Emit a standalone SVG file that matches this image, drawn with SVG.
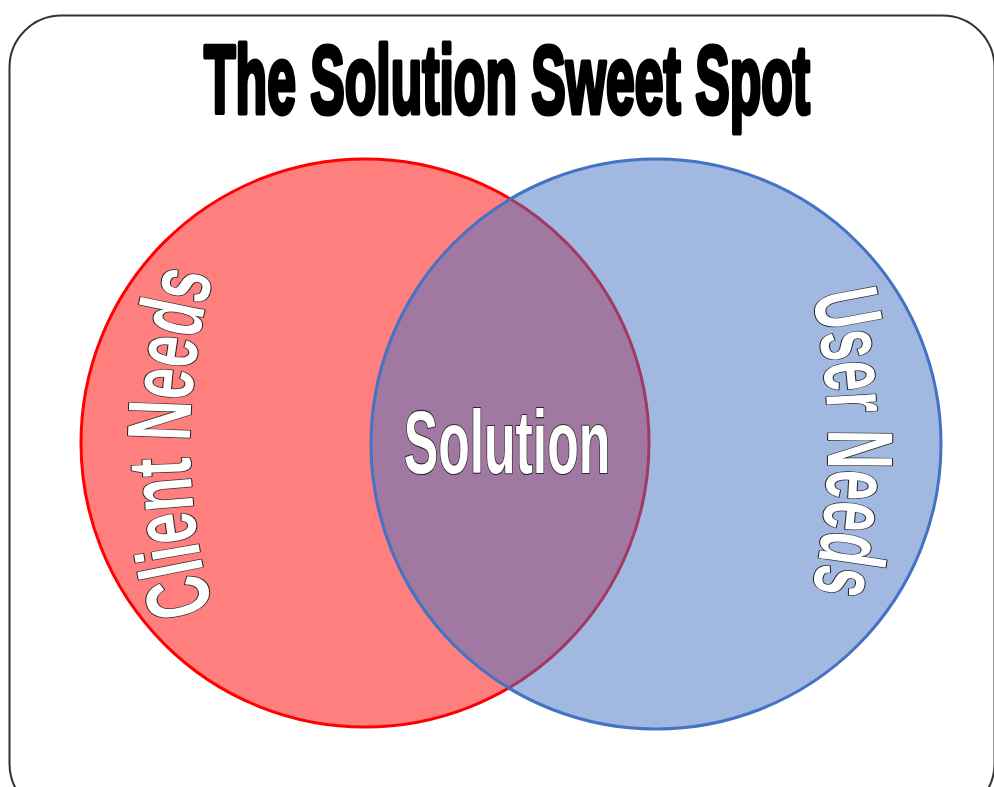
<svg xmlns="http://www.w3.org/2000/svg" width="994" height="787" viewBox="0 0 994 787">
<defs>
<style>
.frame{fill:#ffffff;stroke:#333333;stroke-width:2}
.title{font-family:"Liberation Sans",Arial,sans-serif;font-weight:bold;font-size:97px;fill:#000;stroke:#000;stroke-width:5;stroke-linejoin:round}
.lbl{font-family:"Liberation Sans",Arial,sans-serif;font-weight:bold;fill:#ffffff;stroke:#2a2a2a;stroke-width:2.2;stroke-linejoin:round;paint-order:stroke fill}
</style>
<path id="arcClient" d="M 223.7 643 A 610 610 0 0 1 223.7 243"/>
<path id="arcUser" d="M 798.8 243 A 700 700 0 0 1 798.8 643"/>
</defs>
<rect x="0" y="0" width="994" height="787" fill="#ffffff"/>
<rect class="frame" x="9.5" y="15.5" width="985" height="800" rx="52" ry="52"/>
<g id="title">
<text class="title" transform="translate(507,113) scale(0.533,1)" x="0" y="0" text-anchor="middle">The Solution Sweet Spot</text>
</g>
<g id="client-needs">
<circle cx="365" cy="443" r="284" fill="#ff0000" fill-opacity="0.5" stroke="#ff0000" stroke-width="3"/>
</g>
<g id="user-needs">
<circle cx="656" cy="444" r="285" fill="#4472c4" fill-opacity="0.5" stroke="#4472c4" stroke-width="3"/>
</g>
<g id="labels">
<text class="lbl" font-size="90"><textPath href="#arcClient" startOffset="50%" text-anchor="middle" textLength="338" lengthAdjust="spacingAndGlyphs">Client Needs</textPath></text>
<text class="lbl" font-size="93"><textPath href="#arcUser" startOffset="50%" text-anchor="middle" textLength="298" lengthAdjust="spacingAndGlyphs">User Needs</textPath></text>
<text class="lbl" font-size="89" transform="translate(507,473) scale(0.58,1)" x="0" y="0" text-anchor="middle">Solution</text>
</g>
<g id="connectors"></g>
</svg>
